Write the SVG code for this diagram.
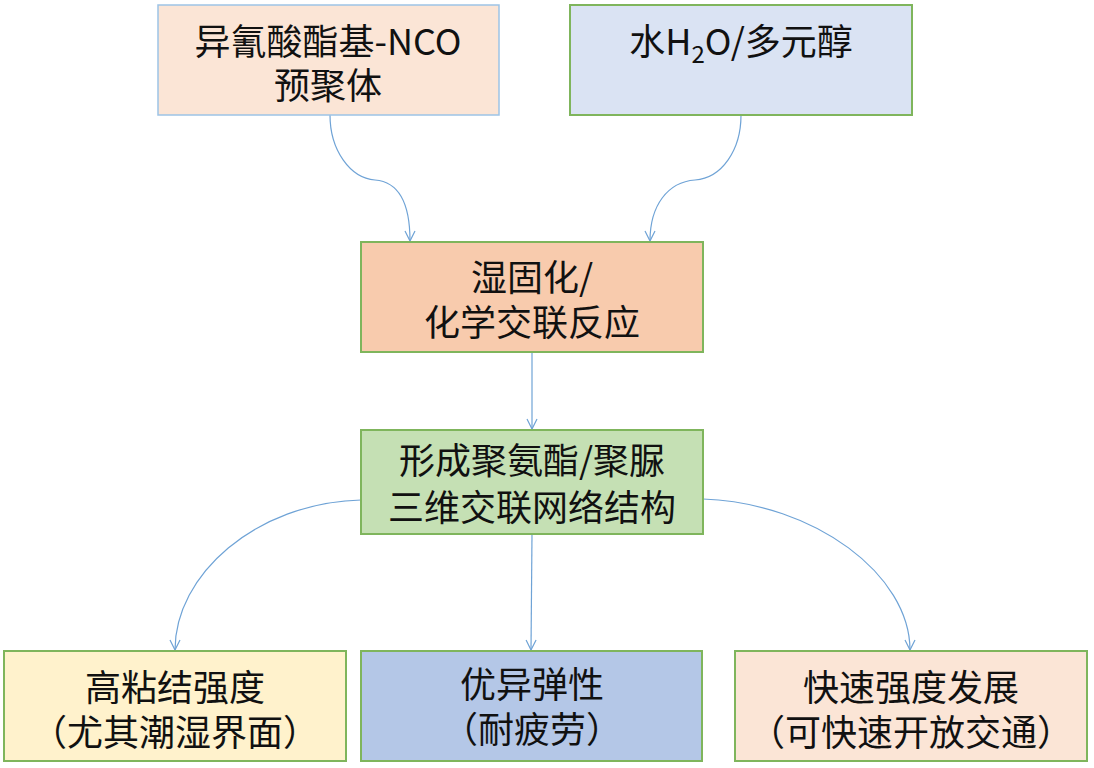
<svg xmlns="http://www.w3.org/2000/svg" width="1094" height="768" viewBox="0 0 1094 768">
<style>
.box{stroke:#7fb55c;stroke-width:2}
.t{font-family:"Noto Sans CJK SC","Noto Sans",sans-serif;font-size:36px;fill:#111;text-anchor:middle}
.c{fill:none;stroke:#6fa3d6;stroke-width:1.2}
</style>
<defs>
<marker id="ah" viewBox="0 0 12 12" refX="11" refY="6" markerWidth="12" markerHeight="12" markerUnits="userSpaceOnUse" orient="auto">
<path d="M1,1 L11,6 L1,11" fill="none" stroke="#6fa3d6" stroke-width="1.2"/>
</marker>
</defs>
<rect width="1094" height="768" fill="#fff"/>
<g id="connectors">
<path class="c" marker-end="url(#ah)" d="M330,115 C330,150 350,178 375,180 C400,182 410,205 410,241"/>
<path class="c" marker-end="url(#ah)" d="M741,115 C741,150 722,178 695,180 C668,182 650,205 650,241"/>
<path class="c" marker-end="url(#ah)" d="M532,352 L532,429"/>
<path class="c" marker-end="url(#ah)" d="M361,500 C255,503 175,575 175,650"/>
<path class="c" marker-end="url(#ah)" d="M532,534 L531,650"/>
<path class="c" marker-end="url(#ah)" d="M703,499 C815,503 910,575 910,650"/>
</g>
<g id="n1">
<rect x="158" y="5" width="341" height="110" fill="#fbe5d6" stroke="#9dc3e6" stroke-width="1.5"/>
<text class="t" x="328" y="55">异氰酸酯基-NCO</text>
<text class="t" x="328" y="99">预聚体</text>
</g>
<g id="n2">
<rect class="box" x="570" y="5" width="342" height="110" fill="#dae3f3"/>
<text class="t" x="741" y="55">水H<tspan font-size="24" dy="8">2</tspan><tspan dy="-8">O/多元醇</tspan></text>
</g>
<g id="n3">
<rect class="box" x="361" y="242" width="342" height="110" fill="#f8cbad"/>
<text class="t" x="532" y="291">湿固化/</text>
<text class="t" x="532" y="336">化学交联反应</text>
</g>
<g id="n4">
<rect class="box" x="361" y="430" width="342" height="104" fill="#c5e0b4"/>
<text class="t" x="532" y="474">形成聚氨酯/聚脲</text>
<text class="t" x="532" y="521">三维交联网络结构</text>
</g>
<g id="n5">
<rect class="box" x="4" y="651" width="342" height="110" fill="#fff2cc"/>
<text class="t" x="175" y="701">高粘结强度</text>
<text class="t" x="175" y="746">（尤其潮湿界面）</text>
</g>
<g id="n6">
<rect class="box" x="361" y="651" width="341" height="110" fill="#b4c7e7"/>
<text class="t" x="532" y="698">优异弹性</text>
<text class="t" x="532" y="743">（耐疲劳）</text>
</g>
<g id="n7">
<rect class="box" x="735" y="651" width="352" height="110" fill="#fbe5d6"/>
<text class="t" x="911" y="701">快速强度发展</text>
<text class="t" x="911" y="746">（可快速开放交通）</text>
</g>
</svg>
